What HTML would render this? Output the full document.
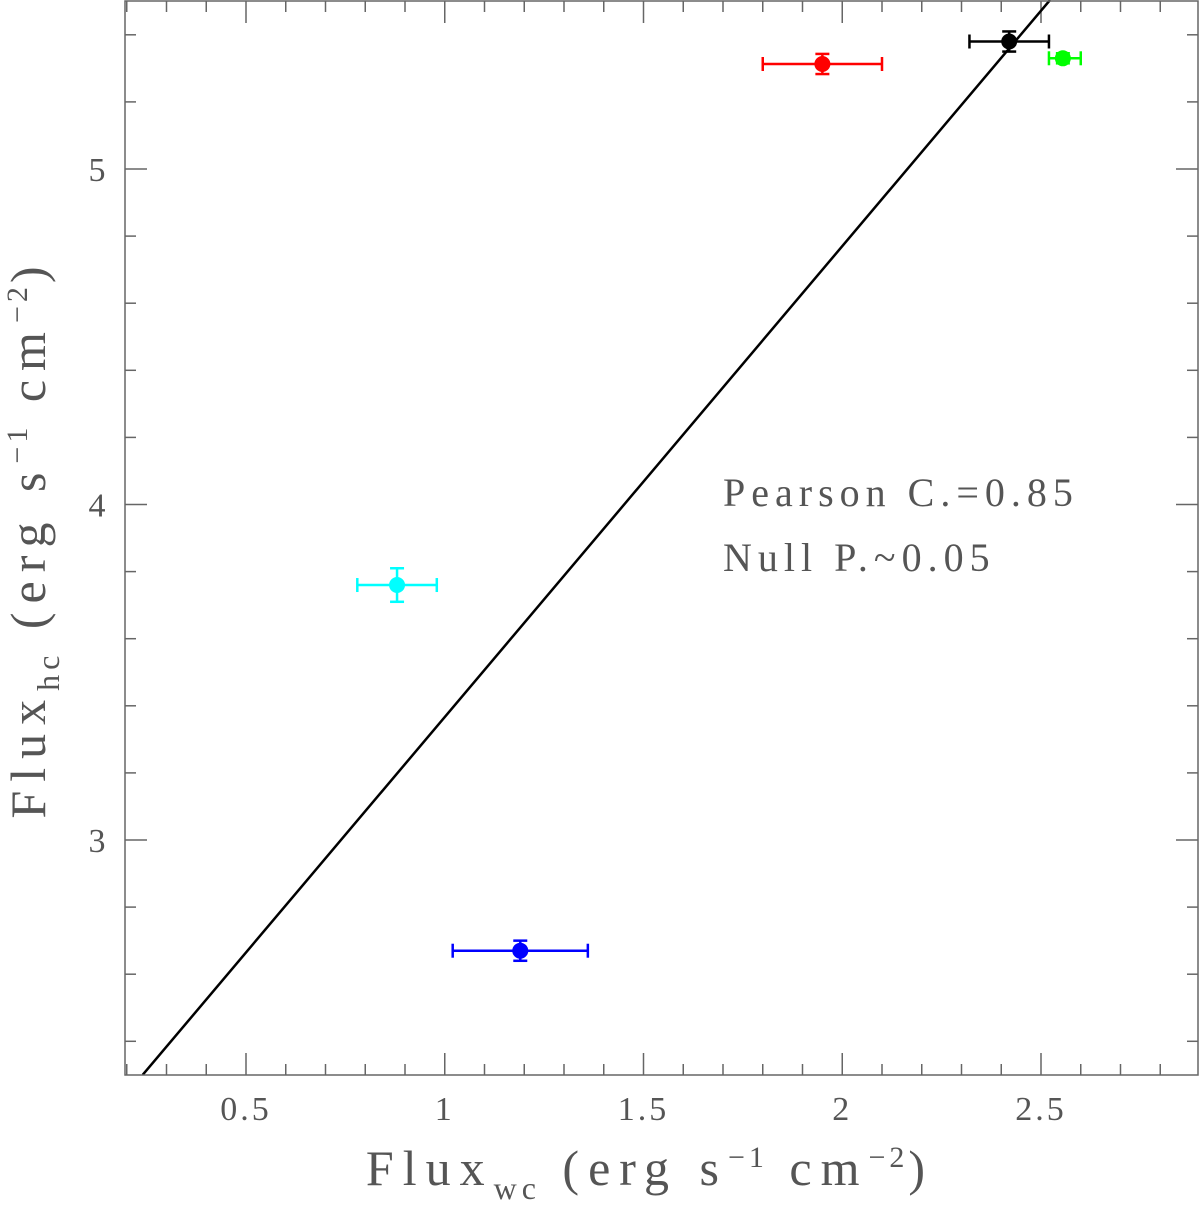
<!DOCTYPE html>
<html><head><meta charset="utf-8"><style>
body{margin:0;background:#fff}
svg text{font-family:"Liberation Serif",serif;fill:#555}
</style></head><body>
<svg id="chart" width="1200" height="1202" xmlns="http://www.w3.org/2000/svg">
<g id="ticks"></g>
<g id="marks"></g>
<text x="650" y="1185" font-size="50" text-anchor="middle" letter-spacing="9">Flux<tspan font-size="32" dy="14" letter-spacing="5">wc</tspan><tspan dy="-14"> (erg s</tspan><tspan font-size="30" dy="-18" letter-spacing="4">−1</tspan><tspan dy="18"> cm</tspan><tspan font-size="30" dy="-18" letter-spacing="4">−2</tspan><tspan dy="18">)</tspan></text>
<text transform="translate(45,538) rotate(-90)" font-size="50" text-anchor="middle" letter-spacing="9">Flux<tspan font-size="32" dy="14" letter-spacing="5">hc</tspan><tspan dy="-14"> (erg s</tspan><tspan font-size="30" dy="-18" letter-spacing="4">−1</tspan><tspan dy="18"> cm</tspan><tspan font-size="30" dy="-18" letter-spacing="4">−2</tspan><tspan dy="18">)</tspan></text>
<text x="723" y="506" font-size="40" letter-spacing="6">Pearson C.=0.85</text>
<text x="723" y="571" font-size="40" letter-spacing="6">Null P.~0.05</text>
<rect x="125" y="1" width="1073" height="1074" fill="none" stroke="#666" stroke-width="1.5"/>
</svg>
<script>
const xVals=[2.42,1.95,2.555,0.88,1.19];
const yVals=[5.38,5.313,5.33,3.76,2.67];
const xErrLo=[2.32,1.80,2.52,0.78,1.02];
const xErrHi=[2.52,2.10,2.60,0.98,1.36];
const yErr=[0.03,0.03,0.015,0.05,0.03];
const colors=['#000','#f00','#0f0','#0ff','#00f'];
const names=['black','red','green','cyan','blue'];
const xTickLabels=['0.5','1','1.5','2','2.5'];
const yTickLabels=['3','4','5'];
const fitSlope=[1.4035];
const fitIntercept=[1.963];
const L=125,R=1198,T=1,B=1075;
const X=v=>47.25+397.5*v, Y=v=>169+(5-v)*335.5;
const ns='http://www.w3.org/2000/svg';
function mk(p,tag,a){const e=document.createElementNS(ns,tag);for(const k in a)e.setAttribute(k,a[k]);p.appendChild(e);return e;}
const tg=document.getElementById('ticks'), mg=document.getElementById('marks');
for(let i=2;i<=28;i++){const v=i/10,px=X(v);if(px<=L||px>=R)continue;const maj=i%5==0,len=maj?22:11;
 const t1=mk(tg,'line',{x1:px,x2:px,y1:B,y2:B-len,stroke:'#666','stroke-width':1.5});
 
 
 const t2=mk(tg,'line',{x1:px,x2:px,y1:T,y2:T+len,stroke:'#666','stroke-width':1.5});
 
 }
xTickLabels.forEach(s=>{const t=mk(tg,'text',{x:X(parseFloat(s)),y:1120,'font-size':34,'text-anchor':'middle','letter-spacing':3});t.textContent=s;
 
 });
for(let i=23;i<=55;i++){const v=i/10,py=Y(v);if(py<=T||py>=B)continue;if(i%2)continue;const maj=i%10==0,len=maj?22:11;
 const t1=mk(tg,'line',{x1:L,x2:L+len,y1:py,y2:py,stroke:'#666','stroke-width':1.5});
 
 
 const t2=mk(tg,'line',{x1:R,x2:R-len,y1:py,y2:py,stroke:'#666','stroke-width':1.5});
 
 }
yTickLabels.forEach(s=>{const t=mk(tg,'text',{x:97,y:Y(parseFloat(s))+12,'font-size':34,'text-anchor':'middle'});t.textContent=s;
 
 });
const x0=(2.30-fitIntercept[0])/fitSlope[0], x1=(5.504-fitIntercept[0])/fitSlope[0];
const fl=mk(mg,'line',{x1:X(x0),y1:Y(2.30),x2:X(x1),y2:Y(5.504),stroke:'#000','stroke-width':2.5});


xVals.forEach((xv,i)=>{const g=mk(mg,'g',{stroke:colors[i],'stroke-width':2.5,fill:colors[i]});
 
 
 const cx=X(xv),cy=Y(yVals[i]),a=X(xErrLo[i]),b=X(xErrHi[i]),yt=Y(yVals[i]+yErr[i]),yb=Y(yVals[i]-yErr[i]);
 mk(g,'line',{x1:a,x2:b,y1:cy,y2:cy});
 mk(g,'line',{x1:a,x2:a,y1:cy-7,y2:cy+7});
 mk(g,'line',{x1:b,x2:b,y1:cy-7,y2:cy+7});
 mk(g,'line',{x1:cx,x2:cx,y1:yt,y2:yb});
 mk(g,'line',{x1:cx-7,x2:cx+7,y1:yt,y2:yt});
 mk(g,'line',{x1:cx-7,x2:cx+7,y1:yb,y2:yb});
 mk(g,'circle',{cx:cx,cy:cy,r:8,stroke:'none'});});
</script>
</body></html>
